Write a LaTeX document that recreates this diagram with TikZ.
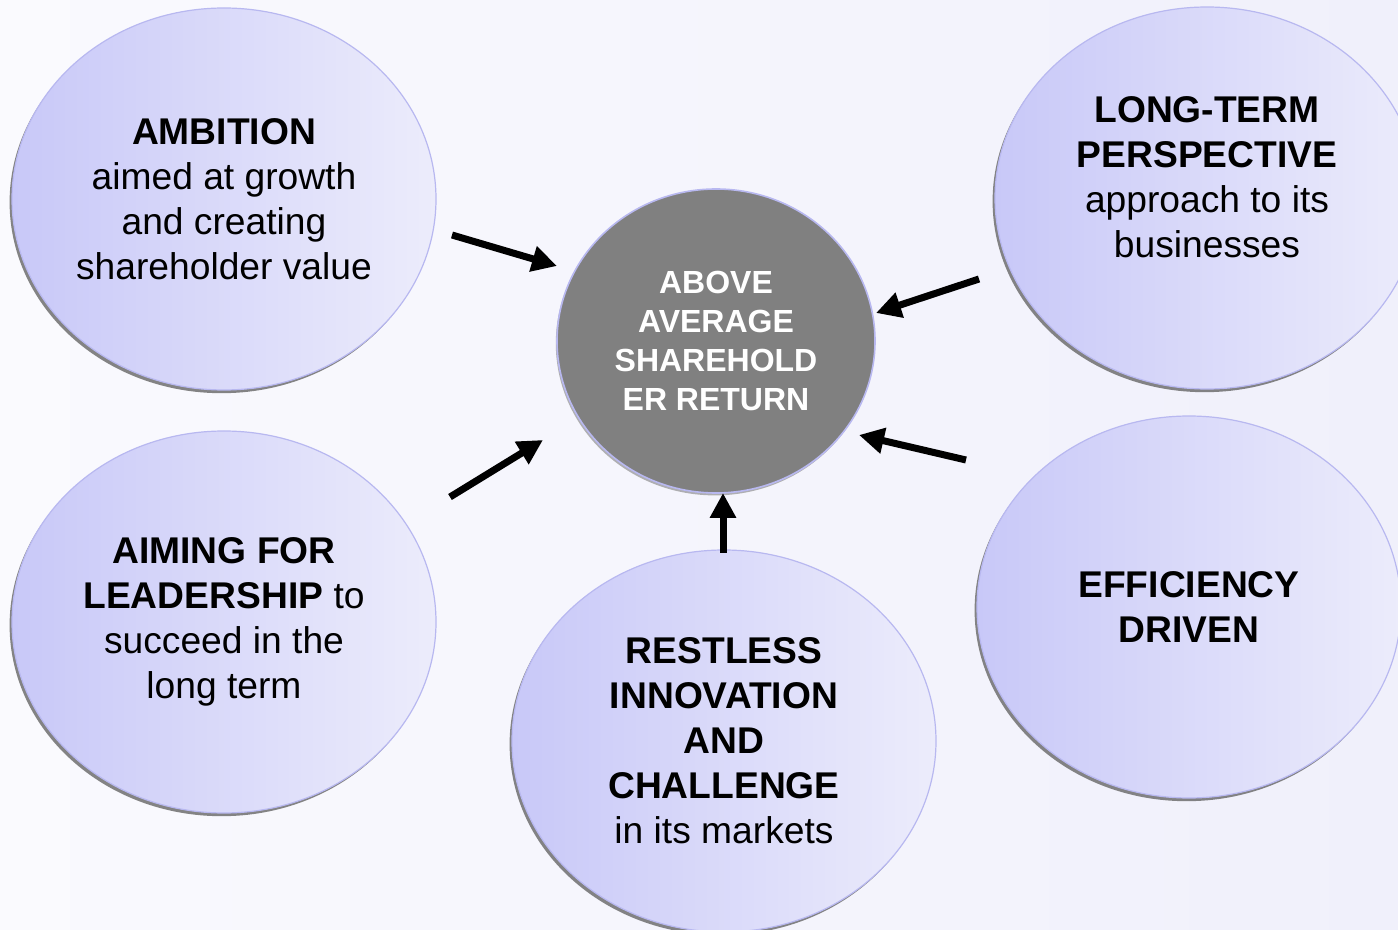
\documentclass[tikz,border=0pt]{standalone}
\usepackage{fontspec}
\setmainfont{Liberation Sans}
\usetikzlibrary{shapes.geometric,shadows,arrows.meta}
\definecolor{bgleft}{RGB}{250,250,254}
\definecolor{bgright}{RGB}{240,240,251}
\definecolor{bubbleleft}{RGB}{200,200,248}
\definecolor{bubbleright}{RGB}{236,236,251}
\definecolor{bubbleedge}{RGB}{184,184,240}
\definecolor{hubgray}{RGB}{128,128,128}

\begin{document}
\begin{tikzpicture}[x=0.5pt, y=-0.5pt,
	bubble/.style = {ellipse, draw=bubbleedge, line width=0.6pt, left color=bubbleleft, right color=bubbleright,
		minimum width=212pt, minimum height=191pt, inner sep=0pt,
		drop shadow={shadow xshift=-1.2pt, shadow yshift=-1.6pt, fill=black!60, opacity=0.8}},
	bubbletext/.style = {align=center, inner sep=0pt, font=\fontsize{18.6}{22.5}\selectfont},
	hub/.style = {ellipse, draw=bubbleedge, line width=0.8pt, fill=hubgray, text=white, align=center,
		font=\bfseries\fontsize{16}{19.5}\selectfont, minimum width=159pt, minimum height=152pt, inner sep=0pt,
		drop shadow={shadow xshift=-0.6pt, shadow yshift=-1.2pt, fill=black!50, opacity=0.6}},
	pusharrow/.style = {-{Triangle[length=12.5pt,width=12.5pt]}, line width=3.5pt, black}
	]
	\useasboundingbox (0,0) rectangle (1398,930);
	\clip (0,0) rectangle (1398,930);
	\shade[left color=bgleft, right color=bgright] (0,0) rectangle (1398,930);

	% the five bubbles
	\node[bubble] (ambition) at (224,199) {};
	\node[bubble] (longterm) at (1207,198) {};
	\node[bubble] (leadership) at (224,622) {};
	\node[bubble] (innovation) at (724,741) {};
	\node[bubble] (efficiency) at (1189,607) {};

	\node[bubbletext] at (ambition) {\textbf{AMBITION}\\aimed at growth\\and creating\\shareholder value};
	\node[bubbletext] at ([yshift=10.5pt]longterm.center) {\textbf{LONG-TERM}\\\textbf{PERSPECTIVE}\\approach to its\\businesses};
	\node[bubbletext] at (leadership) {\textbf{AIMING FOR}\\\textbf{LEADERSHIP} to\\succeed in the\\long term};
	\node[bubbletext] at (innovation) {\textbf{RESTLESS}\\\textbf{INNOVATION}\\\textbf{AND}\\\textbf{CHALLENGE}\\ in its markets};
	\node[bubbletext] at (efficiency) {\textbf{EFFICIENCY}\\\textbf{DRIVEN}};

	% centre
	\node[hub] (return) at (716,341) {ABOVE\\AVERAGE\\SHAREHOLD\\ER RETURN};

	% arrows into the centre
	\coordinate (t1) at (452,235); \coordinate (h1) at (557,266);
	\coordinate (t2) at (979,279); \coordinate (h2) at (876,313);
	\coordinate (t3) at (450,497); \coordinate (h3) at (543,440);
	\coordinate (t4) at (966,460); \coordinate (h4) at (859,435);
	\coordinate (t5) at (723,553); \coordinate (h5) at (723,493);
	\foreach \i in {1,...,5}{ \draw[pusharrow] (t\i) -- (h\i);}
\end{tikzpicture}
\end{document}
